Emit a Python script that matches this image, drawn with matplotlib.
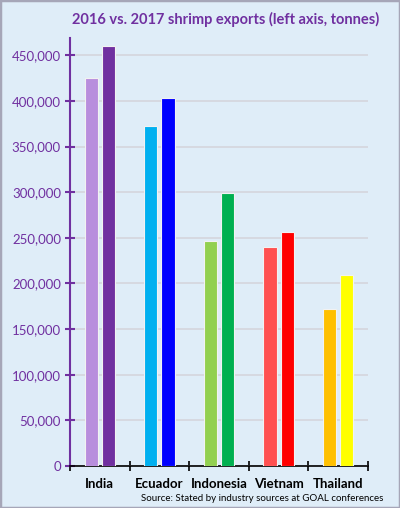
import matplotlib.pyplot as plt
from matplotlib.ticker import FuncFormatter
import numpy as np

countries = ['India', 'Ecuador', 'Indonesia', 'Vietnam', 'Thailand']
exports_2016 = [425000, 372000, 247000, 239500, 171500]
exports_2017 = [460000, 403000, 299000, 256500, 209000]
colors_2016 = ['#B88EDD', '#00B0F0', '#92D050', '#FF5050', '#FFC000']
colors_2017 = ['#7030A0', '#0000FF', '#00B050', '#FF0000', '#FFFF00']

purple = '#7030A0'
bg = '#DFEDF8'

plt.rcParams['font.family'] = ['Lato', 'DejaVu Sans']

fig = plt.figure(figsize=(4, 5.08), dpi=100, facecolor=bg)
fig.patches.append(plt.Rectangle((0, 0), 1, 1, transform=fig.transFigure,
                                 fill=False, edgecolor='#A6A6B8', linewidth=2.5))
ax = fig.add_axes([0.175, 0.0827, 0.745, 0.842])
ax.set_facecolor(bg)

x = np.arange(len(countries))
w = 0.22
ax.bar(x - 0.145, exports_2016, w, color=colors_2016, edgecolor='#F2F2F2', linewidth=0.8, zorder=3)
ax.bar(x + 0.145, exports_2017, w, color=colors_2017, edgecolor='#F2F2F2', linewidth=0.8, zorder=3)

ax.set_xlim(-0.5, 4.5)
ax.set_ylim(0, 468600)
ax.set_yticks(np.arange(0, 450001, 50000))
ax.yaxis.set_major_formatter(FuncFormatter(lambda v, p: f'{int(v):,}'))
ax.grid(axis='y', color='#D5D5DD', linewidth=1.2, zorder=0)

ax.set_xticks(np.arange(-0.5, 4.6, 1))
ax.set_xticklabels([])
ax.set_xticks(x, minor=True)
ax.set_xticklabels(countries, minor=True, fontsize=9.5, fontweight='bold', color='black')
ax.tick_params(axis='x', which='minor', length=0, pad=9)
ax.tick_params(axis='x', which='major', direction='inout', length=7, width=1.2, color='black')
ax.tick_params(axis='y', direction='inout', length=7, width=1.5, color=purple,
               labelcolor=purple, labelsize=9.5, pad=3)

for s in ['top', 'right']:
    ax.spines[s].set_visible(False)
ax.spines['left'].set_color(purple)
ax.spines['left'].set_linewidth(1.5)
ax.spines['bottom'].set_color('black')
ax.spines['bottom'].set_linewidth(1.2)

fig.text(0.565, 0.962, '2016 vs. 2017 shrimp exports (left axis, tonnes)', ha='center', va='center',
         fontsize=10.5, fontweight='bold', color=purple)
fig.text(0.958, 0.018, 'Source: Stated by industry sources at GOAL conferences', ha='right', va='center',
         fontsize=7, color='black')

fig.savefig('out.png', dpi=100, facecolor=bg)
